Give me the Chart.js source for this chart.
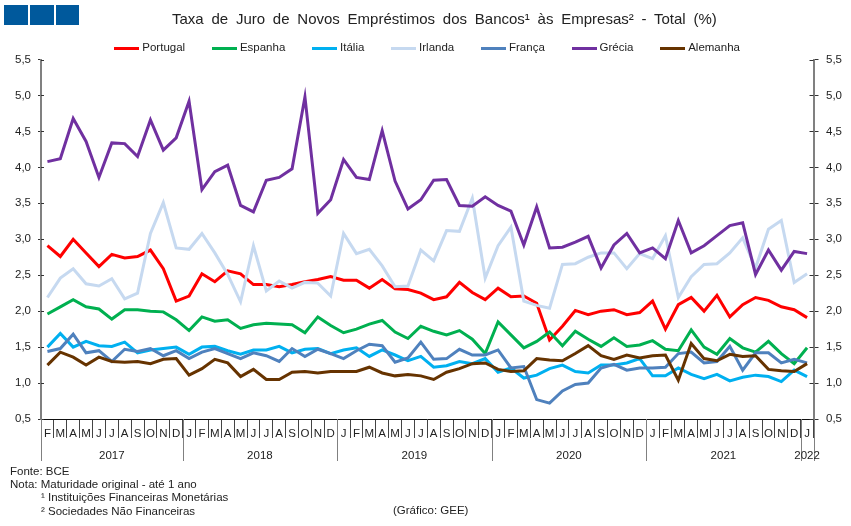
<!DOCTYPE html>
<html lang="pt">
<head>
<meta charset="utf-8">
<title>Taxa de Juro de Novos Empréstimos</title>
<script src="https://cdn.jsdelivr.net/npm/chart.js@4"></script>
<style>
  body { margin: 0; background: #fff; }
  #wrap { position: relative; width: 851px; height: 526px; overflow: hidden; font-family: "Liberation Sans", Arial, sans-serif; color: #222; }
  canvas { position: absolute; left: 0; top: 0; }
  .logo { position: absolute; top: 5px; height: 20px; background: #00599c; }
  .txt { position: absolute; white-space: pre; font-size: 11.5px; line-height: 14px; }
  #title { left: 172px; top: 10px; font-size: 15px; line-height: 17px; word-spacing: 3.6px; }
</style>
</head>
<body>
<div id="wrap">
  <canvas id="chart" width="851" height="526"></canvas>
  <div class="logo" style="left:4px;width:24px"></div>
  <div class="logo" style="left:30px;width:24px"></div>
  <div class="logo" style="left:56px;width:23px"></div>
  <div class="txt" id="title">Taxa de Juro de Novos Empréstimos dos Bancos¹ às Empresas² - Total (%)</div>
  <div class="txt" style="left:10px;top:464px">Fonte: BCE</div>
  <div class="txt" style="left:10px;top:477px">Nota: Maturidade original - até 1 ano</div>
  <div class="txt" style="left:41px;top:490px">¹ Instituições Financeiras Monetárias</div>
  <div class="txt" style="left:41px;top:504px">² Sociedades Não Financeiras</div>
  <div class="txt" style="left:393px;top:503px">(Gráfico: GEE)</div>
</div>
<script>
const months = ['F','M','A','M','J','J','A','S','O','N','D',
    'J','F','M','A','M','J','J','A','S','O','N','D',
    'J','F','M','A','M','J','J','A','S','O','N','D',
    'J','F','M','A','M','J','J','A','S','O','N','D',
    'J','F','M','A','M','J','J','A','S','O','N','D',
    'J'];
const years = ['2017', '2018', '2019', '2020', '2021', '2022'];
const monthsPerYear = [11, 12, 12, 12, 12, 1];

const portugal = [2.91,2.76,3.00,2.81,2.62,2.79,2.74,2.76,2.85,2.59,2.14,2.21,2.52,2.41,2.56,2.52,2.37,2.37,2.34,2.37,
    2.41,2.44,2.48,2.43,2.43,2.32,2.44,2.31,2.30,2.25,2.16,2.20,2.40,2.26,2.16,2.32,2.20,2.21,2.11,1.60,
    1.79,2.01,1.95,2.00,2.02,1.95,1.98,2.14,1.75,2.09,2.19,2.00,2.22,1.92,2.09,2.19,2.15,2.06,2.02,1.91];
const espanha = [1.96,2.06,2.16,2.06,2.03,1.89,2.02,2.02,2.00,1.99,1.88,1.73,1.92,1.86,1.88,1.76,1.81,1.83,1.82,1.81,
    1.70,1.92,1.80,1.70,1.75,1.82,1.87,1.71,1.62,1.79,1.72,1.67,1.73,1.61,1.41,1.85,1.67,1.49,1.58,1.71,
    1.52,1.72,1.61,1.51,1.63,1.51,1.53,1.59,1.47,1.45,1.74,1.50,1.40,1.62,1.49,1.43,1.58,1.41,1.27,1.49];
const italia = [1.50,1.69,1.50,1.58,1.52,1.51,1.57,1.42,1.46,1.48,1.50,1.40,1.50,1.51,1.45,1.40,1.46,1.46,1.51,1.42,
    1.47,1.48,1.41,1.46,1.49,1.37,1.46,1.39,1.31,1.37,1.22,1.24,1.30,1.27,1.34,1.15,1.21,1.07,1.11,1.20,
    1.25,1.16,1.14,1.25,1.25,1.28,1.34,1.10,1.10,1.21,1.12,1.06,1.12,1.03,1.08,1.11,1.09,1.02,1.18,1.09];
const irlanda = [2.19,2.46,2.59,2.38,2.35,2.45,2.17,2.25,3.08,3.51,2.88,2.86,3.08,2.81,2.51,2.13,2.91,2.28,2.42,2.32,
    2.40,2.39,2.21,3.08,2.80,2.86,2.63,2.34,2.35,2.85,2.70,3.12,3.11,3.57,2.46,2.91,3.17,2.14,2.08,2.04,
    2.65,2.66,2.75,2.81,2.81,2.59,2.80,2.73,3.05,2.19,2.48,2.65,2.66,2.81,3.02,2.60,3.14,3.26,2.40,2.52];
const franca = [1.44,1.48,1.68,1.42,1.45,1.30,1.47,1.44,1.48,1.38,1.45,1.34,1.43,1.48,1.41,1.34,1.42,1.38,1.30,1.48,
    1.37,1.47,1.41,1.34,1.45,1.54,1.52,1.29,1.35,1.57,1.33,1.34,1.47,1.39,1.39,1.46,1.21,1.23,0.77,0.72,
    0.89,0.98,1.00,1.21,1.26,1.18,1.21,1.21,1.22,1.41,1.43,1.28,1.30,1.51,1.18,1.42,1.42,1.28,1.33,1.28];
const grecia = [4.08,4.12,4.68,4.36,3.86,4.34,4.33,4.15,4.66,4.24,4.41,4.92,3.69,3.94,4.03,3.47,3.38,3.82,3.86,3.98,
    4.98,3.36,3.55,4.11,3.86,3.83,4.51,3.81,3.42,3.55,3.82,3.83,3.47,3.46,3.59,3.47,3.39,2.92,3.45,2.88,
    2.89,2.96,3.04,2.60,2.92,3.08,2.81,2.88,2.73,3.26,2.81,2.91,3.05,3.19,3.23,2.51,2.85,2.57,2.83,2.80];
const alemanha = [1.25,1.43,1.36,1.25,1.36,1.30,1.29,1.30,1.27,1.33,1.34,1.11,1.20,1.33,1.28,1.09,1.19,1.05,1.05,1.15,
    1.16,1.14,1.16,1.16,1.16,1.22,1.14,1.10,1.12,1.10,1.05,1.15,1.20,1.27,1.28,1.19,1.16,1.17,1.34,1.32,
    1.31,1.41,1.52,1.38,1.33,1.39,1.35,1.38,1.39,1.04,1.55,1.34,1.31,1.40,1.37,1.38,1.19,1.17,1.16,1.27];

const seriesNames = ['Portugal', 'Espanha', 'Itália', 'Irlanda', 'França', 'Grécia', 'Alemanha'];
const seriesValues = [portugal, espanha, italia, irlanda, franca, grecia, alemanha];
const seriesColors = ['#ff0000', '#00b050', '#00b0f0', '#c6d9f0', '#4f81bd', '#7030a0', '#663300'];

const font = { family: '"Liberation Sans", Arial, sans-serif', size: 11.5 };
const textColor = '#222';

// legend line is longer than the box chart.js reserves, so it sits close to the text
function legendSwatch(color) {
    const c = document.createElement('canvas');
    c.width = 25;
    c.height = 3;
    const g = c.getContext('2d');
    g.fillStyle = color;
    g.fillRect(0, 0, 25, 3);
    return c;
}

// year row, year separators and the inner half of the y ticks
const axisExtras = {
    id: 'axisExtras',
    afterInit(chart) {
        // legend reserves too much height, the plot starts right under it
        const fit = chart.legend.fit;
        chart.legend.fit = function () {
            fit.call(this);
            this.height -= 4.5;
        };
    },
    afterDraw(chart) {
        const { ctx, scales: { x, y } } = chart;
        const base = x.top;
        const edge = i => i === 0 ? x.left : i >= months.length ? x.right
            : (x.getPixelForValue(i - 1) + x.getPixelForValue(i)) / 2;

        ctx.save();
        ctx.lineWidth = 1;
        ctx.strokeStyle = '#333';
        ctx.beginPath();
        y.ticks.forEach(t => {
            const py = Math.round(y.getPixelForValue(t.value)) + 0.5;
            ctx.moveTo(x.left, py); ctx.lineTo(x.left + 3, py);
            ctx.moveTo(x.right - 4, py); ctx.lineTo(x.right, py);
        });
        ctx.stroke();

        ctx.strokeStyle = '#808080';
        ctx.fillStyle = textColor;
        ctx.font = `${font.size}px ${font.family}`;
        ctx.textAlign = 'center';
        ctx.textBaseline = 'middle';
        let start = 0;
        years.forEach((year, i) => {
            const end = start + monthsPerYear[i];
            ctx.beginPath();
            ctx.moveTo(Math.round(edge(start)) + 0.5, base);
            ctx.lineTo(Math.round(edge(start)) + 0.5, base + 42);
            ctx.moveTo(Math.round(edge(end)) + 0.5, base);
            ctx.lineTo(Math.round(edge(end)) + 0.5, base + 42);
            ctx.stroke();
            ctx.fillText(year, (edge(start) + edge(end)) / 2, base + 37);
            start = end;
        });
        ctx.restore();
    }
};

const valueAxis = (position, width, tickLength, padding) => ({
    type: 'linear',
    position: position,
    min: 0.5,
    max: 5.5,
    afterFit: scale => { scale.width = width; },
    border: { color: '#808080', width: 2 },
    grid: { drawOnChartArea: false, tickLength: tickLength, tickColor: '#333' },
    ticks: {
        stepSize: 0.5,
        padding: padding,
        font: font,
        color: textColor,
        callback: v => v.toFixed(1).replace('.', ',')
    }
});

new Chart(document.getElementById('chart'), {
    type: 'line',
    data: {
        labels: months,
        datasets: seriesNames.map((name, i) => ({
            label: name,
            data: seriesValues[i],
            borderColor: seriesColors[i],
            backgroundColor: seriesColors[i],
            pointStyle: legendSwatch(seriesColors[i]),
            borderWidth: 3,
            pointRadius: 0,
            tension: 0,
            order: seriesNames.length - i
        }))
    },
    plugins: [axisExtras],
    options: {
        responsive: false,
        animation: false,
        layout: { padding: { top: 13, left: 6 } },
        scales: {
            x: {
                offset: true,
                afterFit: scale => { scale.height = 107; },
                border: { color: '#111', width: 1 },
                grid: { offset: true, drawOnChartArea: false, tickLength: 19, tickColor: '#444' },
                ticks: { autoSkip: false, maxRotation: 0, padding: -11, font: font, color: textColor }
            },
            y: valueAxis('left', 35, 3, 7),
            y2: valueAxis('right', 37.5, 5, 7.5)
        },
        plugins: {
            title: { display: false },
            tooltip: { enabled: false },
            legend: {
                position: 'top',
                labels: {
                    usePointStyle: true,
                    pointStyleWidth: 19.5,
                    padding: 29.5,
                    font: font,
                    color: textColor,
                    sort: (a, b) => a.datasetIndex - b.datasetIndex
                }
            }
        }
    }
});
</script>
</body>
</html>
